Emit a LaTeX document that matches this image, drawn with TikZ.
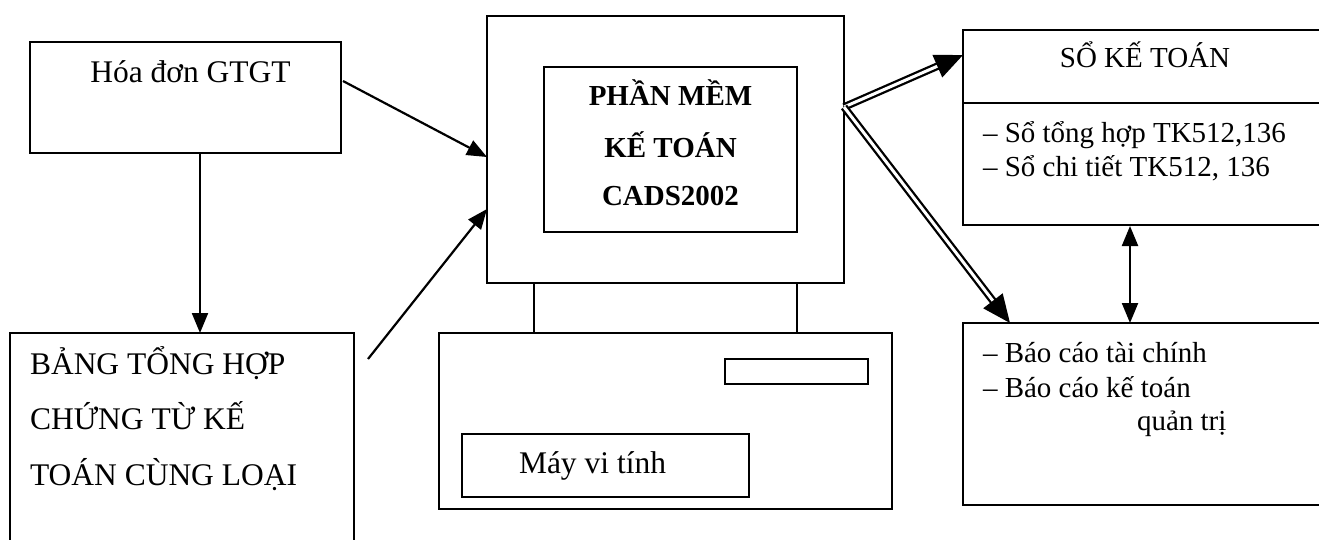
\documentclass[tikz,border=0pt]{standalone}
\usepackage{fontspec}
\setmainfont{Liberation Serif}
\usetikzlibrary{arrows.meta,calc}
\begin{document}
\begin{tikzpicture}[x=1pt,y=-1pt,
  every node/.style={inner sep=0pt,outer sep=0pt},
  box/.style={draw,line width=2.2pt,anchor=north west},
  big/.style={font=\fontsize{31.5}{34}\selectfont},
  mid/.style={font=\fontsize{29}{32}\selectfont},
  bld/.style={font=\fontsize{29}{32}\selectfont\bfseries},
  arr/.style={line width=2.2pt,-{Triangle[length=20pt,width=16pt]}},
  barr/.style={line width=2.2pt,{Triangle[length=20pt,width=16pt]}-{Triangle[length=20pt,width=16pt]}},
  dbl/.style={double,double distance=3pt,line width=2.3pt,-{Triangle[length=28pt,width=24pt]}}]
\useasboundingbox (0,0) rectangle (1319,539);
\clip (0,0) rectangle (1319,539);
% boxes
\node[box,minimum width=311pt,minimum height=111pt] (hoadon) at (30,42) {};
\node[box,minimum width=344pt,minimum height=260pt] (bang) at (10,333) {};
\node[box,minimum width=357pt,minimum height=267pt] (monitor) at (487,16) {};
\node[box,minimum width=253pt,minimum height=165pt] (screen) at (544,67) {};
\node[box,minimum width=453pt,minimum height=176pt] (base) at (439,333) {};
\node[box,minimum width=143pt,minimum height=25pt] (slot) at (725,359) {};
\node[box,minimum width=287pt,minimum height=63pt] (mayvi) at (462,434) {};
\node[box,minimum width=420pt,minimum height=195pt] (sokt) at (963,30) {};
\node[box,minimum width=420pt,minimum height=182pt] (baocao) at (963,323) {};
% divider and neck
\draw[line width=2.2pt] ($(sokt.north west)+(0,73)$) -- ($(sokt.north east)+(0,73)$);
\draw[line width=2.2pt] ($(monitor.south west)+(47,0)$) -- ($(base.north west)+(95,0)$);
\draw[line width=2.2pt] ($(monitor.south west)+(310,0)$) -- ($(base.north west)+(358,0)$);
% texts
\node[big,anchor=base] (t1) at (190.5,82) {Hóa đơn GTGT};
\node[big,anchor=base west] (t2) at (30,374) {BẢNG TỔNG HỢP};
\node[big,anchor=base west] (t3) at (30,429) {CHỨNG TỪ KẾ};
\node[big,anchor=base west] (t4) at (30,485) {TOÁN CÙNG LOẠI};
\node[bld,anchor=base] (t5) at (670.5,105) {PHẦN MỀM};
\node[bld,anchor=base] (t6) at (670.5,157) {KẾ TOÁN};
\node[bld,anchor=base] (t7) at (670.5,205) {CADS2002};
\node[big,anchor=base west] (t8) at (519,473) {Máy vi tính};
\node[mid,anchor=base] (t9) at (1145,67) {SỔ KẾ TOÁN};
\node[mid,anchor=base west] (t10) at (983,142) {– Sổ tổng hợp TK512,136};
\node[mid,anchor=base west] (t11) at (983,176) {– Sổ chi tiết TK512, 136};
\node[mid,anchor=base west] (t12) at (983,362) {– Báo cáo tài chính};
\node[mid,anchor=base west] (t13) at (983,397) {– Báo cáo kế toán};
\node[mid,anchor=base west] (t14) at (1137,430) {quản trị};
% connectors
\coordinate (bstart) at (368,359);
\draw[arr] ($(hoadon.north east)+(2,39)$) -- ($(monitor.north west)+(0,141)$);
\draw[arr] (bstart) -- ($(monitor.north west)+(0,193)$);
\draw[arr] ($(hoadon.south west)+(170,0)$) -- ($(bang.north west)+(190,0)$);
\draw[dbl] ($(monitor.north east)+(0,91)$) -- ($(sokt.north west)+(0,25)$);
\draw[dbl] ($(monitor.north east)+(0,91)$) -- ($(baocao.north west)+(47,0)$);
\draw[barr] ($(sokt.south west)+(167,1)$) -- ($(baocao.north west)+(167,0)$);
\end{tikzpicture}
\end{document}
